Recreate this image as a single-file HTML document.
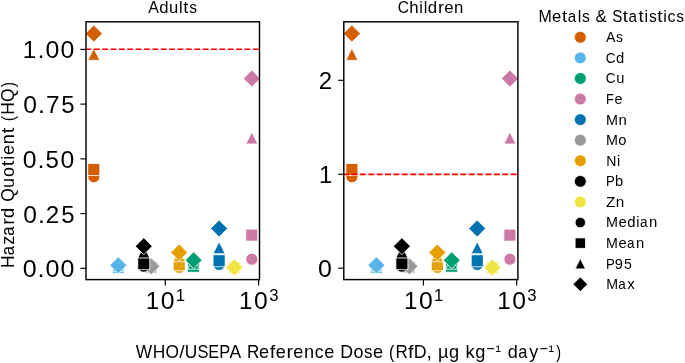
<!DOCTYPE html>
<html><head><meta charset="utf-8"><title>Hazard Quotient vs Reference Dose</title><style>
html,body{margin:0;padding:0;background:#fff;}
body{width:685px;height:363px;overflow:hidden;}
svg{display:block;will-change:transform;font-family:"Liberation Sans",sans-serif;}
</style></head><body>
<svg width="685" height="363" viewBox="0 0 685 363">
<rect width="685" height="363" fill="#fff"/>
<clipPath id="c0"><rect x="86.0" y="21.8" width="173.5" height="257.8"/></clipPath>
<g clip-path="url(#c0)">
<circle cx="93.8" cy="176.8" r="6" fill="#D55E00" stroke="#fff" stroke-width="0.8"/>
<rect x="87.8" y="163.5" width="12" height="12" fill="#D55E00" stroke="#fff" stroke-width="0.8"/>
<path d="M93.8 48.3L87.8 60.3L99.8 60.3Z" fill="#D55E00" stroke="#fff" stroke-width="0.8"/>
<path d="M93.8 25.11L102.29 33.6L93.8 42.09L85.31 33.6Z" fill="#D55E00" stroke="#fff" stroke-width="0.8"/>
<circle cx="118.3" cy="267.9" r="6" fill="#56B4E9" stroke="#fff" stroke-width="0.8"/>
<rect x="112.3" y="261.6" width="12" height="12" fill="#56B4E9" stroke="#fff" stroke-width="0.8"/>
<path d="M118.3 259.7L112.3 271.7L124.3 271.7Z" fill="#56B4E9" stroke="#fff" stroke-width="0.8"/>
<path d="M118.3 256.81L126.79 265.3L118.3 273.79L109.81 265.3Z" fill="#56B4E9" stroke="#fff" stroke-width="0.8"/>
<circle cx="193.6" cy="265.9" r="6" fill="#009E73" stroke="#fff" stroke-width="0.8"/>
<rect x="187.6" y="260.2" width="12" height="12" fill="#009E73" stroke="#fff" stroke-width="0.8"/>
<path d="M193.6 257.2L187.6 269.2L199.6 269.2Z" fill="#009E73" stroke="#fff" stroke-width="0.8"/>
<path d="M193.6 251.81L202.09 260.3L193.6 268.79L185.11 260.3Z" fill="#009E73" stroke="#fff" stroke-width="0.8"/>
<circle cx="251.8" cy="259.2" r="6" fill="#CC79A7" stroke="#fff" stroke-width="0.8"/>
<rect x="245.8" y="229.1" width="12" height="12" fill="#CC79A7" stroke="#fff" stroke-width="0.8"/>
<path d="M251.8 132L245.8 144L257.8 144Z" fill="#CC79A7" stroke="#fff" stroke-width="0.8"/>
<path d="M251.8 70.11L260.29 78.6L251.8 87.09L243.31 78.6Z" fill="#CC79A7" stroke="#fff" stroke-width="0.8"/>
<circle cx="219.1" cy="264.4" r="6" fill="#0072B2" stroke="#fff" stroke-width="0.8"/>
<rect x="213.1" y="254.8" width="12" height="12" fill="#0072B2" stroke="#fff" stroke-width="0.8"/>
<path d="M219.1 241.7L213.1 253.7L225.1 253.7Z" fill="#0072B2" stroke="#fff" stroke-width="0.8"/>
<path d="M219.1 220.01L227.59 228.5L219.1 236.99L210.61 228.5Z" fill="#0072B2" stroke="#fff" stroke-width="0.8"/>
<circle cx="151.3" cy="267.8" r="6" fill="#999999" stroke="#fff" stroke-width="0.8"/>
<rect x="145.3" y="261.5" width="12" height="12" fill="#999999" stroke="#fff" stroke-width="0.8"/>
<path d="M151.3 260.9L145.3 272.9L157.3 272.9Z" fill="#999999" stroke="#fff" stroke-width="0.8"/>
<path d="M151.3 257.86L159.79 266.35L151.3 274.84L142.81 266.35Z" fill="#999999" stroke="#fff" stroke-width="0.8"/>
<circle cx="179.2" cy="267.4" r="6" fill="#E69F00" stroke="#fff" stroke-width="0.8"/>
<rect x="173.2" y="258.75" width="12" height="12" fill="#E69F00" stroke="#fff" stroke-width="0.8"/>
<path d="M179.2 249.75L173.2 261.75L185.2 261.75Z" fill="#E69F00" stroke="#fff" stroke-width="0.8"/>
<path d="M179.2 244.01L187.69 252.5L179.2 260.99L170.71 252.5Z" fill="#E69F00" stroke="#fff" stroke-width="0.8"/>
<circle cx="143.8" cy="266.2" r="6" fill="#000000" stroke="#fff" stroke-width="0.8"/>
<rect x="137.8" y="257.7" width="12" height="12" fill="#000000" stroke="#fff" stroke-width="0.8"/>
<path d="M143.8 245.9L137.8 257.9L149.8 257.9Z" fill="#000000" stroke="#fff" stroke-width="0.8"/>
<path d="M143.8 237.71L152.29 246.2L143.8 254.69L135.31 246.2Z" fill="#000000" stroke="#fff" stroke-width="0.8"/>
<circle cx="234.3" cy="268.1" r="6" fill="#F0E442" stroke="#fff" stroke-width="0.8"/>
<rect x="228.3" y="261.9" width="12" height="12" fill="#F0E442" stroke="#fff" stroke-width="0.8"/>
<path d="M234.3 261.7L228.3 273.7L240.3 273.7Z" fill="#F0E442" stroke="#fff" stroke-width="0.8"/>
<path d="M234.3 259.06L242.79 267.55L234.3 276.04L225.81 267.55Z" fill="#F0E442" stroke="#fff" stroke-width="0.8"/>
<line x1="86.0" y1="49.3" x2="259.5" y2="49.3" stroke="#ff0000" stroke-width="1.6" stroke-dasharray="5.95 2.42" stroke-dashoffset="0.6"/>
</g>
<rect x="86.0" y="21.8" width="173.5" height="257.8" fill="none" stroke="#000" stroke-width="1.45"/>
<clipPath id="c1"><rect x="343.8" y="21.8" width="174.1" height="257.8"/></clipPath>
<g clip-path="url(#c1)">
<circle cx="351.9" cy="176.8" r="6" fill="#D55E00" stroke="#fff" stroke-width="0.8"/>
<rect x="345.9" y="163.5" width="12" height="12" fill="#D55E00" stroke="#fff" stroke-width="0.8"/>
<path d="M351.9 48.3L345.9 60.3L357.9 60.3Z" fill="#D55E00" stroke="#fff" stroke-width="0.8"/>
<path d="M351.9 25.11L360.39 33.6L351.9 42.09L343.41 33.6Z" fill="#D55E00" stroke="#fff" stroke-width="0.8"/>
<circle cx="376.4" cy="267.9" r="6" fill="#56B4E9" stroke="#fff" stroke-width="0.8"/>
<rect x="370.4" y="261.6" width="12" height="12" fill="#56B4E9" stroke="#fff" stroke-width="0.8"/>
<path d="M376.4 259.7L370.4 271.7L382.4 271.7Z" fill="#56B4E9" stroke="#fff" stroke-width="0.8"/>
<path d="M376.4 256.81L384.89 265.3L376.4 273.79L367.91 265.3Z" fill="#56B4E9" stroke="#fff" stroke-width="0.8"/>
<circle cx="451.7" cy="265.9" r="6" fill="#009E73" stroke="#fff" stroke-width="0.8"/>
<rect x="445.7" y="260.2" width="12" height="12" fill="#009E73" stroke="#fff" stroke-width="0.8"/>
<path d="M451.7 257.2L445.7 269.2L457.7 269.2Z" fill="#009E73" stroke="#fff" stroke-width="0.8"/>
<path d="M451.7 251.81L460.19 260.3L451.7 268.79L443.21 260.3Z" fill="#009E73" stroke="#fff" stroke-width="0.8"/>
<circle cx="509.9" cy="259.2" r="6" fill="#CC79A7" stroke="#fff" stroke-width="0.8"/>
<rect x="503.9" y="229.1" width="12" height="12" fill="#CC79A7" stroke="#fff" stroke-width="0.8"/>
<path d="M509.9 132L503.9 144L515.9 144Z" fill="#CC79A7" stroke="#fff" stroke-width="0.8"/>
<path d="M509.9 70.11L518.39 78.6L509.9 87.09L501.41 78.6Z" fill="#CC79A7" stroke="#fff" stroke-width="0.8"/>
<circle cx="477.2" cy="264.4" r="6" fill="#0072B2" stroke="#fff" stroke-width="0.8"/>
<rect x="471.2" y="254.8" width="12" height="12" fill="#0072B2" stroke="#fff" stroke-width="0.8"/>
<path d="M477.2 241.7L471.2 253.7L483.2 253.7Z" fill="#0072B2" stroke="#fff" stroke-width="0.8"/>
<path d="M477.2 220.01L485.69 228.5L477.2 236.99L468.71 228.5Z" fill="#0072B2" stroke="#fff" stroke-width="0.8"/>
<circle cx="409.4" cy="267.8" r="6" fill="#999999" stroke="#fff" stroke-width="0.8"/>
<rect x="403.4" y="261.5" width="12" height="12" fill="#999999" stroke="#fff" stroke-width="0.8"/>
<path d="M409.4 260.9L403.4 272.9L415.4 272.9Z" fill="#999999" stroke="#fff" stroke-width="0.8"/>
<path d="M409.4 257.86L417.89 266.35L409.4 274.84L400.91 266.35Z" fill="#999999" stroke="#fff" stroke-width="0.8"/>
<circle cx="437.3" cy="267.4" r="6" fill="#E69F00" stroke="#fff" stroke-width="0.8"/>
<rect x="431.3" y="258.75" width="12" height="12" fill="#E69F00" stroke="#fff" stroke-width="0.8"/>
<path d="M437.3 249.75L431.3 261.75L443.3 261.75Z" fill="#E69F00" stroke="#fff" stroke-width="0.8"/>
<path d="M437.3 244.01L445.79 252.5L437.3 260.99L428.81 252.5Z" fill="#E69F00" stroke="#fff" stroke-width="0.8"/>
<circle cx="401.9" cy="266.2" r="6" fill="#000000" stroke="#fff" stroke-width="0.8"/>
<rect x="395.9" y="257.7" width="12" height="12" fill="#000000" stroke="#fff" stroke-width="0.8"/>
<path d="M401.9 245.9L395.9 257.9L407.9 257.9Z" fill="#000000" stroke="#fff" stroke-width="0.8"/>
<path d="M401.9 237.71L410.39 246.2L401.9 254.69L393.41 246.2Z" fill="#000000" stroke="#fff" stroke-width="0.8"/>
<circle cx="492.4" cy="268.1" r="6" fill="#F0E442" stroke="#fff" stroke-width="0.8"/>
<rect x="486.4" y="261.9" width="12" height="12" fill="#F0E442" stroke="#fff" stroke-width="0.8"/>
<path d="M492.4 261.7L486.4 273.7L498.4 273.7Z" fill="#F0E442" stroke="#fff" stroke-width="0.8"/>
<path d="M492.4 259.06L500.89 267.55L492.4 276.04L483.91 267.55Z" fill="#F0E442" stroke="#fff" stroke-width="0.8"/>
<line x1="343.8" y1="174.35" x2="517.9" y2="174.35" stroke="#ff0000" stroke-width="1.6" stroke-dasharray="5.95 2.42" stroke-dashoffset="0.6"/>
</g>
<rect x="343.8" y="21.8" width="174.1" height="257.8" fill="none" stroke="#000" stroke-width="1.45"/>
<line x1="80.4" y1="268.3" x2="86.0" y2="268.3" stroke="#000" stroke-width="1.15"/>
<line x1="80.4" y1="213.58" x2="86.0" y2="213.58" stroke="#000" stroke-width="1.15"/>
<line x1="80.4" y1="158.85" x2="86.0" y2="158.85" stroke="#000" stroke-width="1.15"/>
<line x1="80.4" y1="104.12" x2="86.0" y2="104.12" stroke="#000" stroke-width="1.15"/>
<line x1="80.4" y1="49.4" x2="86.0" y2="49.4" stroke="#000" stroke-width="1.15"/>
<line x1="338.2" y1="268.2" x2="343.8" y2="268.2" stroke="#000" stroke-width="1.15"/>
<line x1="338.2" y1="174.25" x2="343.8" y2="174.25" stroke="#000" stroke-width="1.15"/>
<line x1="338.2" y1="80.3" x2="343.8" y2="80.3" stroke="#000" stroke-width="1.15"/>
<line x1="165.3" y1="279.6" x2="165.3" y2="285.6" stroke="#000" stroke-width="1.15"/>
<line x1="258.6" y1="279.6" x2="258.6" y2="285.6" stroke="#000" stroke-width="1.15"/>
<line x1="423.4" y1="279.6" x2="423.4" y2="285.6" stroke="#000" stroke-width="1.15"/>
<line x1="516.7" y1="279.6" x2="516.7" y2="285.6" stroke="#000" stroke-width="1.15"/>
<circle cx="580.3" cy="37.3" r="5.95" fill="#D55E00" stroke="#fff" stroke-width="0.8"/>
<circle cx="580.3" cy="57.88" r="5.95" fill="#56B4E9" stroke="#fff" stroke-width="0.8"/>
<circle cx="580.3" cy="78.46" r="5.95" fill="#009E73" stroke="#fff" stroke-width="0.8"/>
<circle cx="580.3" cy="99.04" r="5.95" fill="#CC79A7" stroke="#fff" stroke-width="0.8"/>
<circle cx="580.3" cy="119.62" r="5.95" fill="#0072B2" stroke="#fff" stroke-width="0.8"/>
<circle cx="580.3" cy="140.2" r="5.95" fill="#999999" stroke="#fff" stroke-width="0.8"/>
<circle cx="580.3" cy="160.78" r="5.95" fill="#E69F00" stroke="#fff" stroke-width="0.8"/>
<circle cx="580.3" cy="181.36" r="5.95" fill="#000000" stroke="#fff" stroke-width="0.8"/>
<circle cx="580.3" cy="201.94" r="5.95" fill="#F0E442" stroke="#fff" stroke-width="0.8"/>
<circle cx="580.3" cy="222.52" r="5.2" fill="#000" stroke="#fff" stroke-width="0.8"/>
<rect x="575.1" y="237.9" width="10.4" height="10.4" fill="#000" stroke="#fff" stroke-width="0.8"/>
<path d="M580.3 258.48L575.1 268.88L585.5 268.88Z" fill="#000" stroke="#fff" stroke-width="0.8"/>
<path d="M580.3 276.91L587.65 284.26L580.3 291.61L572.95 284.26Z" fill="#000" stroke="#fff" stroke-width="0.8"/>
<g font-family="Liberation Sans, sans-serif" style="font-kerning:none" fill="#000">
<text y="277.44" font-size="24.43" lengthAdjust="spacingAndGlyphs"><tspan x="22.78" textLength="13.91" lengthAdjust="spacingAndGlyphs">0</tspan><tspan x="37.52" textLength="7.04" lengthAdjust="spacingAndGlyphs">.</tspan><tspan x="45.4" textLength="13.91" lengthAdjust="spacingAndGlyphs">0</tspan><tspan x="60.48" textLength="13.91" lengthAdjust="spacingAndGlyphs">0</tspan></text>
<text y="222.51" font-size="24.43" lengthAdjust="spacingAndGlyphs"><tspan x="23.38" textLength="13.71" lengthAdjust="spacingAndGlyphs">0</tspan><tspan x="38.07" textLength="6.94" lengthAdjust="spacingAndGlyphs">.</tspan><tspan x="45.81" textLength="13.46" lengthAdjust="spacingAndGlyphs">2</tspan><tspan x="61.18" textLength="13.31" lengthAdjust="spacingAndGlyphs">5</tspan></text>
<text y="167.99" font-size="24.43" lengthAdjust="spacingAndGlyphs"><tspan x="22.85" textLength="13.78" lengthAdjust="spacingAndGlyphs">0</tspan><tspan x="37.55" textLength="6.98" lengthAdjust="spacingAndGlyphs">.</tspan><tspan x="45.56" textLength="13.39" lengthAdjust="spacingAndGlyphs">5</tspan><tspan x="60.54" textLength="13.78" lengthAdjust="spacingAndGlyphs">0</tspan></text>
<text y="113.26" font-size="24.43" lengthAdjust="spacingAndGlyphs"><tspan x="23.37" textLength="13.74" lengthAdjust="spacingAndGlyphs">0</tspan><tspan x="38.06" textLength="6.95" lengthAdjust="spacingAndGlyphs">.</tspan><tspan x="46.01" textLength="13.59" lengthAdjust="spacingAndGlyphs">7</tspan><tspan x="61.16" textLength="13.34" lengthAdjust="spacingAndGlyphs">5</tspan></text>
<text y="57.64" font-size="24.43" lengthAdjust="spacingAndGlyphs"><tspan x="22.87" textLength="13.5" lengthAdjust="spacingAndGlyphs">1</tspan><tspan x="37.54" textLength="6.99" lengthAdjust="spacingAndGlyphs">.</tspan><tspan x="45.44" textLength="13.82" lengthAdjust="spacingAndGlyphs">0</tspan><tspan x="60.52" textLength="13.82" lengthAdjust="spacingAndGlyphs">0</tspan></text>
<text y="277.34" font-size="24.43" lengthAdjust="spacingAndGlyphs"><tspan x="318.08" textLength="13.89" lengthAdjust="spacingAndGlyphs">0</tspan></text>
<text y="183.39" font-size="24.43" lengthAdjust="spacingAndGlyphs"><tspan x="318.89" textLength="13.27" lengthAdjust="spacingAndGlyphs">1</tspan></text>
<text y="89.44" font-size="24.43" lengthAdjust="spacingAndGlyphs"><tspan x="318.82" textLength="13.39" lengthAdjust="spacingAndGlyphs">2</tspan></text>
<text y="309.3" font-size="24.43" lengthAdjust="spacingAndGlyphs"><tspan x="145.8" textLength="13.43" lengthAdjust="spacingAndGlyphs">1</tspan><tspan x="160.83" textLength="13.75" lengthAdjust="spacingAndGlyphs">0</tspan></text>
<text y="301.4" font-size="17.1" lengthAdjust="spacingAndGlyphs"><tspan x="175.83" textLength="9.29" lengthAdjust="spacingAndGlyphs">1</tspan></text>
<text y="309.3" font-size="24.43" lengthAdjust="spacingAndGlyphs"><tspan x="239.1" textLength="13.43" lengthAdjust="spacingAndGlyphs">1</tspan><tspan x="254.13" textLength="13.75" lengthAdjust="spacingAndGlyphs">0</tspan></text>
<text y="301.4" font-size="17.1" lengthAdjust="spacingAndGlyphs"><tspan x="269.2" textLength="9.34" lengthAdjust="spacingAndGlyphs">3</tspan></text>
<text y="309.3" font-size="24.43" lengthAdjust="spacingAndGlyphs"><tspan x="403.9" textLength="13.43" lengthAdjust="spacingAndGlyphs">1</tspan><tspan x="418.93" textLength="13.75" lengthAdjust="spacingAndGlyphs">0</tspan></text>
<text y="301.4" font-size="17.1" lengthAdjust="spacingAndGlyphs"><tspan x="433.93" textLength="9.29" lengthAdjust="spacingAndGlyphs">1</tspan></text>
<text y="309.3" font-size="24.43" lengthAdjust="spacingAndGlyphs"><tspan x="497.2" textLength="13.43" lengthAdjust="spacingAndGlyphs">1</tspan><tspan x="512.23" textLength="13.75" lengthAdjust="spacingAndGlyphs">0</tspan></text>
<text y="301.4" font-size="17.1" lengthAdjust="spacingAndGlyphs"><tspan x="527.3" textLength="9.34" lengthAdjust="spacingAndGlyphs">3</tspan></text>
<text y="12.6" font-size="15.76" lengthAdjust="spacingAndGlyphs"><tspan x="148.33" textLength="10.7" lengthAdjust="spacingAndGlyphs">A</tspan><tspan x="159.18" textLength="9.27" lengthAdjust="spacingAndGlyphs">d</tspan><tspan x="169.08" textLength="9.23" lengthAdjust="spacingAndGlyphs">u</tspan><tspan x="179" textLength="3.59" lengthAdjust="spacingAndGlyphs">l</tspan><tspan x="183.37" textLength="5.13" lengthAdjust="spacingAndGlyphs">t</tspan><tspan x="189.26" textLength="7.82" lengthAdjust="spacingAndGlyphs">s</tspan></text>
<text y="12.6" font-size="15.97" lengthAdjust="spacingAndGlyphs"><tspan x="397.79" textLength="11.26" lengthAdjust="spacingAndGlyphs">C</tspan><tspan x="409.28" textLength="9.38" lengthAdjust="spacingAndGlyphs">h</tspan><tspan x="419.3" textLength="3.63" lengthAdjust="spacingAndGlyphs">i</tspan><tspan x="423.66" textLength="3.63" lengthAdjust="spacingAndGlyphs">l</tspan><tspan x="427.86" textLength="9.38" lengthAdjust="spacingAndGlyphs">d</tspan><tspan x="438.06" textLength="6.1" lengthAdjust="spacingAndGlyphs">r</tspan><tspan x="444.26" textLength="9.35" lengthAdjust="spacingAndGlyphs">e</tspan><tspan x="454.07" textLength="9.34" lengthAdjust="spacingAndGlyphs">n</tspan></text>
<text y="357.6" font-size="17.49" lengthAdjust="spacingAndGlyphs"><tspan x="135.84" textLength="16.37" lengthAdjust="spacingAndGlyphs">W</tspan><tspan x="152.71" textLength="12.58" lengthAdjust="spacingAndGlyphs">H</tspan><tspan x="165.49" textLength="13.51" lengthAdjust="spacingAndGlyphs">O</tspan><tspan x="179.23" textLength="5.35" lengthAdjust="spacingAndGlyphs">/</tspan><tspan x="184.84" textLength="12.51" lengthAdjust="spacingAndGlyphs">U</tspan><tspan x="197.44" textLength="11" lengthAdjust="spacingAndGlyphs">S</tspan><tspan x="208.3" textLength="10.85" lengthAdjust="spacingAndGlyphs">E</tspan><tspan x="219.19" textLength="10.96" lengthAdjust="spacingAndGlyphs">P</tspan><tspan x="229.58" textLength="11.7" lengthAdjust="spacingAndGlyphs">A</tspan> <tspan x="246.88" textLength="12.34" lengthAdjust="spacingAndGlyphs">R</tspan><tspan x="259.01" textLength="10.1" lengthAdjust="spacingAndGlyphs">e</tspan><tspan x="269.77" textLength="5.56" lengthAdjust="spacingAndGlyphs">f</tspan><tspan x="275.65" textLength="10.1" lengthAdjust="spacingAndGlyphs">e</tspan><tspan x="286.48" textLength="6.59" lengthAdjust="spacingAndGlyphs">r</tspan><tspan x="293.3" textLength="10.1" lengthAdjust="spacingAndGlyphs">e</tspan><tspan x="304.05" textLength="10.09" lengthAdjust="spacingAndGlyphs">n</tspan><tspan x="314.66" textLength="8.75" lengthAdjust="spacingAndGlyphs">c</tspan><tspan x="324.24" textLength="10.1" lengthAdjust="spacingAndGlyphs">e</tspan> <tspan x="340.25" textLength="12.83" lengthAdjust="spacingAndGlyphs">D</tspan><tspan x="353.52" textLength="10.02" lengthAdjust="spacingAndGlyphs">o</tspan><tspan x="364.1" textLength="8.55" lengthAdjust="spacingAndGlyphs">s</tspan><tspan x="373.02" textLength="10.1" lengthAdjust="spacingAndGlyphs">e</tspan> <tspan x="389.07" textLength="5.35" lengthAdjust="spacingAndGlyphs">(</tspan><tspan x="395.6" textLength="12.34" lengthAdjust="spacingAndGlyphs">R</tspan><tspan x="407.9" textLength="5.56" lengthAdjust="spacingAndGlyphs">f</tspan><tspan x="413.75" textLength="12.83" lengthAdjust="spacingAndGlyphs">D</tspan><tspan x="426.38" textLength="5.86" lengthAdjust="spacingAndGlyphs">,</tspan> <tspan x="438.02" textLength="10.49" lengthAdjust="spacingAndGlyphs">µ</tspan><tspan x="448.92" textLength="10.13" lengthAdjust="spacingAndGlyphs">g</tspan> <tspan x="465.5" textLength="9.24" lengthAdjust="spacingAndGlyphs">k</tspan><tspan x="475.27" textLength="10.13" lengthAdjust="spacingAndGlyphs">g</tspan></text>
<text transform="scale(0.9400,1)" x="517.37" y="354.27" font-size="15.5">−</text>
<text transform="scale(1.0147,1)" x="488.29" y="356.09" font-size="16.16">¹</text>
<text y="357.6" font-size="17.49" lengthAdjust="spacingAndGlyphs"> <tspan x="507.66" textLength="10.05" lengthAdjust="spacingAndGlyphs">d</tspan><tspan x="518.34" textLength="9.15" lengthAdjust="spacingAndGlyphs">a</tspan><tspan x="529.39" textLength="8.98" lengthAdjust="spacingAndGlyphs">y</tspan></text>
<text transform="scale(0.9400,1)" x="573.84" y="354.27" font-size="15.5">−</text>
<text transform="scale(1.0147,1)" x="540.6" y="356.09" font-size="16.16">¹</text>
<text y="357.6" font-size="17.47" lengthAdjust="spacingAndGlyphs"><tspan x="556.24" textLength="4.84" lengthAdjust="spacingAndGlyphs">)</tspan></text>
<g transform="translate(13.6,266.6) rotate(-90)">
<text y="0" font-size="17.49" lengthAdjust="spacingAndGlyphs"><tspan x="-1.52" textLength="12.58" lengthAdjust="spacingAndGlyphs">H</tspan><tspan x="11.29" textLength="9.21" lengthAdjust="spacingAndGlyphs">a</tspan><tspan x="21.86" textLength="9.04" lengthAdjust="spacingAndGlyphs">z</tspan><tspan x="30.86" textLength="9.21" lengthAdjust="spacingAndGlyphs">a</tspan><tspan x="41.89" textLength="6.59" lengthAdjust="spacingAndGlyphs">r</tspan><tspan x="48.72" textLength="10.13" lengthAdjust="spacingAndGlyphs">d</tspan> <tspan x="64.83" textLength="13.51" lengthAdjust="spacingAndGlyphs">Q</tspan><tspan x="78.72" textLength="10.09" lengthAdjust="spacingAndGlyphs">u</tspan><tspan x="89.51" textLength="10.02" lengthAdjust="spacingAndGlyphs">o</tspan><tspan x="100.29" textLength="5.61" lengthAdjust="spacingAndGlyphs">t</tspan><tspan x="106.95" textLength="3.92" lengthAdjust="spacingAndGlyphs">i</tspan><tspan x="111.57" textLength="10.1" lengthAdjust="spacingAndGlyphs">e</tspan><tspan x="122.32" textLength="10.09" lengthAdjust="spacingAndGlyphs">n</tspan><tspan x="133.29" textLength="5.61" lengthAdjust="spacingAndGlyphs">t</tspan> <tspan x="145.27" textLength="5.35" lengthAdjust="spacingAndGlyphs">(</tspan><tspan x="151.87" textLength="12.58" lengthAdjust="spacingAndGlyphs">H</tspan><tspan x="164.65" textLength="13.51" lengthAdjust="spacingAndGlyphs">Q</tspan><tspan x="179.25" textLength="5.35" lengthAdjust="spacingAndGlyphs">)</tspan></text>
</g>
<text y="22.1" font-size="16.02" lengthAdjust="spacingAndGlyphs"><tspan x="538.38" textLength="13.34" lengthAdjust="spacingAndGlyphs">M</tspan><tspan x="552.09" textLength="9.27" lengthAdjust="spacingAndGlyphs">e</tspan><tspan x="562" textLength="5.15" lengthAdjust="spacingAndGlyphs">t</tspan><tspan x="567.74" textLength="8.46" lengthAdjust="spacingAndGlyphs">a</tspan><tspan x="577.75" textLength="3.6" lengthAdjust="spacingAndGlyphs">l</tspan><tspan x="582.02" textLength="7.85" lengthAdjust="spacingAndGlyphs">s</tspan> <tspan x="595.53" textLength="11.29" lengthAdjust="spacingAndGlyphs">&amp;</tspan> <tspan x="612.27" textLength="10.1" lengthAdjust="spacingAndGlyphs">S</tspan><tspan x="622.7" textLength="5.15" lengthAdjust="spacingAndGlyphs">t</tspan><tspan x="628.44" textLength="8.46" lengthAdjust="spacingAndGlyphs">a</tspan><tspan x="638.52" textLength="5.15" lengthAdjust="spacingAndGlyphs">t</tspan><tspan x="644.63" textLength="3.6" lengthAdjust="spacingAndGlyphs">i</tspan><tspan x="648.9" textLength="7.85" lengthAdjust="spacingAndGlyphs">s</tspan><tspan x="657.28" textLength="5.15" lengthAdjust="spacingAndGlyphs">t</tspan><tspan x="663.39" textLength="3.6" lengthAdjust="spacingAndGlyphs">i</tspan><tspan x="667.5" textLength="8.03" lengthAdjust="spacingAndGlyphs">c</tspan><tspan x="676.31" textLength="7.85" lengthAdjust="spacingAndGlyphs">s</tspan></text>
<text y="42.2" font-size="14.6" lengthAdjust="spacingAndGlyphs"><tspan x="606.03" textLength="9.45" lengthAdjust="spacingAndGlyphs">A</tspan><tspan x="615.95" textLength="6.91" lengthAdjust="spacingAndGlyphs">s</tspan></text>
<text y="62.78" font-size="14.44" lengthAdjust="spacingAndGlyphs"><tspan x="605.86" textLength="9.85" lengthAdjust="spacingAndGlyphs">C</tspan><tspan x="616.13" textLength="8.21" lengthAdjust="spacingAndGlyphs">d</tspan></text>
<text y="83.36" font-size="14.64" lengthAdjust="spacingAndGlyphs"><tspan x="605.87" textLength="9.82" lengthAdjust="spacingAndGlyphs">C</tspan><tspan x="616.21" textLength="8.15" lengthAdjust="spacingAndGlyphs">u</tspan></text>
<text y="103.94" font-size="14.6" lengthAdjust="spacingAndGlyphs"><tspan x="606.05" textLength="7.89" lengthAdjust="spacingAndGlyphs">F</tspan><tspan x="614.43" textLength="8.07" lengthAdjust="spacingAndGlyphs">e</tspan></text>
<text y="124.52" font-size="14.6" lengthAdjust="spacingAndGlyphs"><tspan x="606.04" textLength="11.98" lengthAdjust="spacingAndGlyphs">M</tspan><tspan x="618.52" textLength="8.32" lengthAdjust="spacingAndGlyphs">n</tspan></text>
<text y="145.1" font-size="14.6" lengthAdjust="spacingAndGlyphs"><tspan x="606.05" textLength="11.95" lengthAdjust="spacingAndGlyphs">M</tspan><tspan x="618.38" textLength="8.24" lengthAdjust="spacingAndGlyphs">o</tspan></text>
<text y="165.68" font-size="14.44" lengthAdjust="spacingAndGlyphs"><tspan x="606.13" textLength="10.15" lengthAdjust="spacingAndGlyphs">N</tspan><tspan x="616.91" textLength="3.18" lengthAdjust="spacingAndGlyphs">i</tspan></text>
<text y="186.26" font-size="14.44" lengthAdjust="spacingAndGlyphs"><tspan x="606.04" textLength="8.81" lengthAdjust="spacingAndGlyphs">P</tspan><tspan x="614.99" textLength="8.14" lengthAdjust="spacingAndGlyphs">b</tspan></text>
<text y="206.84" font-size="14.6" lengthAdjust="spacingAndGlyphs"><tspan x="606.06" textLength="9.41" lengthAdjust="spacingAndGlyphs">Z</tspan><tspan x="615.89" textLength="8.53" lengthAdjust="spacingAndGlyphs">n</tspan></text>
<text y="227.42" font-size="14.44" lengthAdjust="spacingAndGlyphs"><tspan x="606.06" textLength="11.94" lengthAdjust="spacingAndGlyphs">M</tspan><tspan x="618.4" textLength="8.3" lengthAdjust="spacingAndGlyphs">e</tspan><tspan x="627.15" textLength="8.32" lengthAdjust="spacingAndGlyphs">d</tspan><tspan x="636.27" textLength="3.22" lengthAdjust="spacingAndGlyphs">i</tspan><tspan x="639.9" textLength="7.57" lengthAdjust="spacingAndGlyphs">a</tspan><tspan x="648.93" textLength="8.29" lengthAdjust="spacingAndGlyphs">n</tspan></text>
<text y="248" font-size="14.6" lengthAdjust="spacingAndGlyphs"><tspan x="606.1" textLength="11.86" lengthAdjust="spacingAndGlyphs">M</tspan><tspan x="618.43" textLength="8.24" lengthAdjust="spacingAndGlyphs">e</tspan><tspan x="626.97" textLength="7.52" lengthAdjust="spacingAndGlyphs">a</tspan><tspan x="636" textLength="8.23" lengthAdjust="spacingAndGlyphs">n</tspan></text>
<text y="268.58" font-size="14.64" lengthAdjust="spacingAndGlyphs"><tspan x="606.02" textLength="8.84" lengthAdjust="spacingAndGlyphs">P</tspan><tspan x="614.84" textLength="8.18" lengthAdjust="spacingAndGlyphs">9</tspan><tspan x="624.05" textLength="7.82" lengthAdjust="spacingAndGlyphs">5</tspan></text>
<text y="289.16" font-size="14.6" lengthAdjust="spacingAndGlyphs"><tspan x="606.13" textLength="11.81" lengthAdjust="spacingAndGlyphs">M</tspan><tspan x="618.26" textLength="7.49" lengthAdjust="spacingAndGlyphs">a</tspan><tspan x="627.29" textLength="7.47" lengthAdjust="spacingAndGlyphs">x</tspan></text>
</g>
</svg>
</body></html>
